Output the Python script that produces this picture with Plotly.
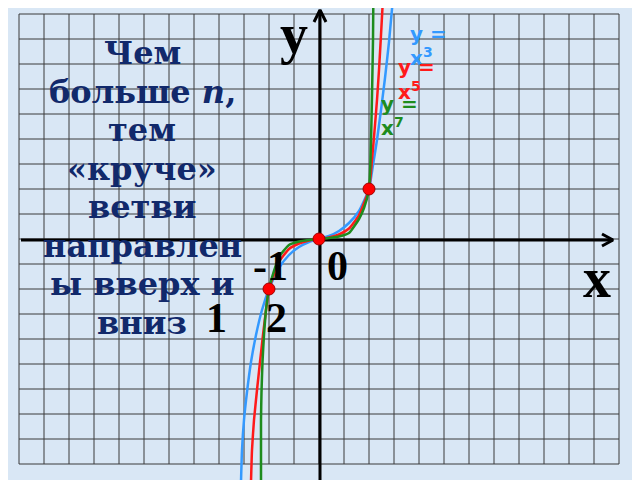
import plotly.graph_objects as go

# points (data units: 1 unit = 2 grid cells)
cube_x = [-1.56, -1.54, -1.50, -1.44, -1.36, -1.26, -1.14, -1.00, -0.80, -0.60, -0.40, -0.20, 0.00,
          0.20, 0.40, 0.60, 0.80, 1.00, 1.08, 1.16, 1.24, 1.32, 1.40, 1.48]
cube_y = [-4.86, -4.22, -3.62, -3.06, -2.46, -1.92, -1.42, -1.00, -0.58, -0.32, -0.16, -0.06, 0.00,
          0.06, 0.16, 0.32, 0.56, 1.00, 1.48, 1.98, 2.58, 3.22, 3.94, 4.82]

fifth_x = [-1.36, -1.34, -1.30, -1.24, -1.18, -1.12, -1.06, -1.00, -0.80, -0.60, -0.40, -0.20, 0.00,
           0.20, 0.40, 0.60, 0.80, 1.00, 1.06, 1.12, 1.16, 1.20, 1.24, 1.28]
fifth_y = [-4.86, -4.22, -3.62, -3.02, -2.46, -1.92, -1.42, -1.00, -0.46, -0.20, -0.09, -0.03, 0.00,
           0.03, 0.09, 0.21, 0.48, 1.00, 1.58, 2.28, 2.78, 3.38, 4.08, 4.82]

seventh_x = [-1.16, -1.16, -1.15, -1.13, -1.10, -1.06, -1.00, -0.90, -0.80, -0.60, -0.40, -0.20, 0.00,
             0.20, 0.40, 0.60, 0.80, 0.90, 1.00, 1.03, 1.05, 1.066, 1.08, 1.086]
seventh_y = [-4.86, -3.62, -3.06, -2.46, -1.92, -1.42, -1.00, -0.64, -0.36, -0.12, -0.05, -0.02, 0.00,
             0.02, 0.05, 0.12, 0.40, 0.62, 1.00, 1.58, 2.38, 3.18, 3.98, 4.68]

dots_x = [-1, 0, 1]
dots_y = [-1, 0, 1]

text_lines = ["Чем", "больше <i>n</i>,", "тем", "«круче»", "ветви",
              "направлен", "ы вверх и", "вниз"]

BG = "#d9e7f5"
NAVY = "#11296b"
BLUE = "#3399ff"
RED = "#ff1a1a"
GREEN = "#1e8c1e"

# the page body adds an 8px margin, so everything is placed 8px up/left
OFF = 8

fig = go.Figure()

# squared paper: lines every half unit
gx = [i * 0.5 for i in range(-12, 13)]
gy = [i * 0.5 for i in range(-9, 10)]
lx, ly = [], []
for v in gx:
    lx += [v, v, None]
    ly += [gy[0], gy[-1], None]
for h in gy:
    lx += [gx[0], gx[-1], None]
    ly += [h, h, None]
fig.add_trace(go.Scatter(x=lx, y=ly, mode="lines",
                         line=dict(color="#3a3a3a", width=1), hoverinfo="skip"))

# axes with arrow heads
fig.add_trace(go.Scatter(x=[-5.96, 5.88, None, 5.66, 5.88, 5.66],
                         y=[-0.02, -0.02, None, 0.10, -0.02, -0.14],
                         mode="lines", line=dict(color="black", width=3)))
fig.add_trace(go.Scatter(x=[0.02, 0.02, None, -0.10, 0.02, 0.14],
                         y=[-4.9, 4.58, None, 4.34, 4.58, 4.34],
                         mode="lines", line=dict(color="black", width=3)))

for xs, ys, col in [(cube_x, cube_y, BLUE), (fifth_x, fifth_y, RED), (seventh_x, seventh_y, GREEN)]:
    fig.add_trace(go.Scatter(x=xs, y=ys, mode="lines",
                             line=dict(color=col, width=2.5, shape="spline", smoothing=0.5)))

fig.add_trace(go.Scatter(x=dots_x, y=dots_y, mode="markers",
                         marker=dict(color="#ff0000", size=12, line=dict(color="#a00000", width=1))))

def px(x, y, text, size, color, family, xanchor="center"):
    fig.add_annotation(x=(x - OFF) / 640, y=1 - (y - OFF) / 480, xref="paper", yref="paper",
                       text=text, showarrow=False, xanchor=xanchor, yanchor="middle",
                       font=dict(size=size, color=color, family=family))

for i, line in enumerate(text_lines):
    px(142, 53 + i * 38.5, "<b>" + line + "</b>", 32, NAVY, "DejaVu Serif")

serif = "Liberation Serif"
px(294, 34, "<b>y</b>", 56, "black", serif)
px(597, 278, "<b>x</b>", 56, "black", serif)
px(337, 266, "<b>0</b>", 42, "black", serif)
px(270, 266, "<b>-1</b>", 42, "black", serif)
px(216, 318, "<b>1</b>", 42, "black", serif)
px(276, 318, "<b>2</b>", 42, "black", serif)

sans = "DejaVu Sans"
px(408, 34, "<b>y =</b>", 20, BLUE, sans, "left")
px(408, 57, "<b>x<sup>3</sup></b>", 20, BLUE, sans, "left")
px(396, 67, "<b>y =</b>", 20, RED, sans, "left")
px(396, 91, "<b>x<sup>5</sup></b>", 20, RED, sans, "left")
px(379, 104, "<b>y =</b>", 20, GREEN, sans, "left")
px(379, 127, "<b>x<sup>7</sup></b>", 20, GREEN, sans, "left")

# origin sits at page pixel (319, 239), 50 px per unit
x0, y0, unit = 319 - OFF, 239 - OFF, 50
fig.update_layout(width=640, height=480, margin=dict(l=0, r=0, t=0, b=0),
                  paper_bgcolor=BG, plot_bgcolor=BG, showlegend=False)
fig.update_xaxes(range=[-x0 / unit, (640 - x0) / unit], visible=False)
fig.update_yaxes(range=[(y0 - 480) / unit, y0 / unit], visible=False)

fig.write_html("out.html")
